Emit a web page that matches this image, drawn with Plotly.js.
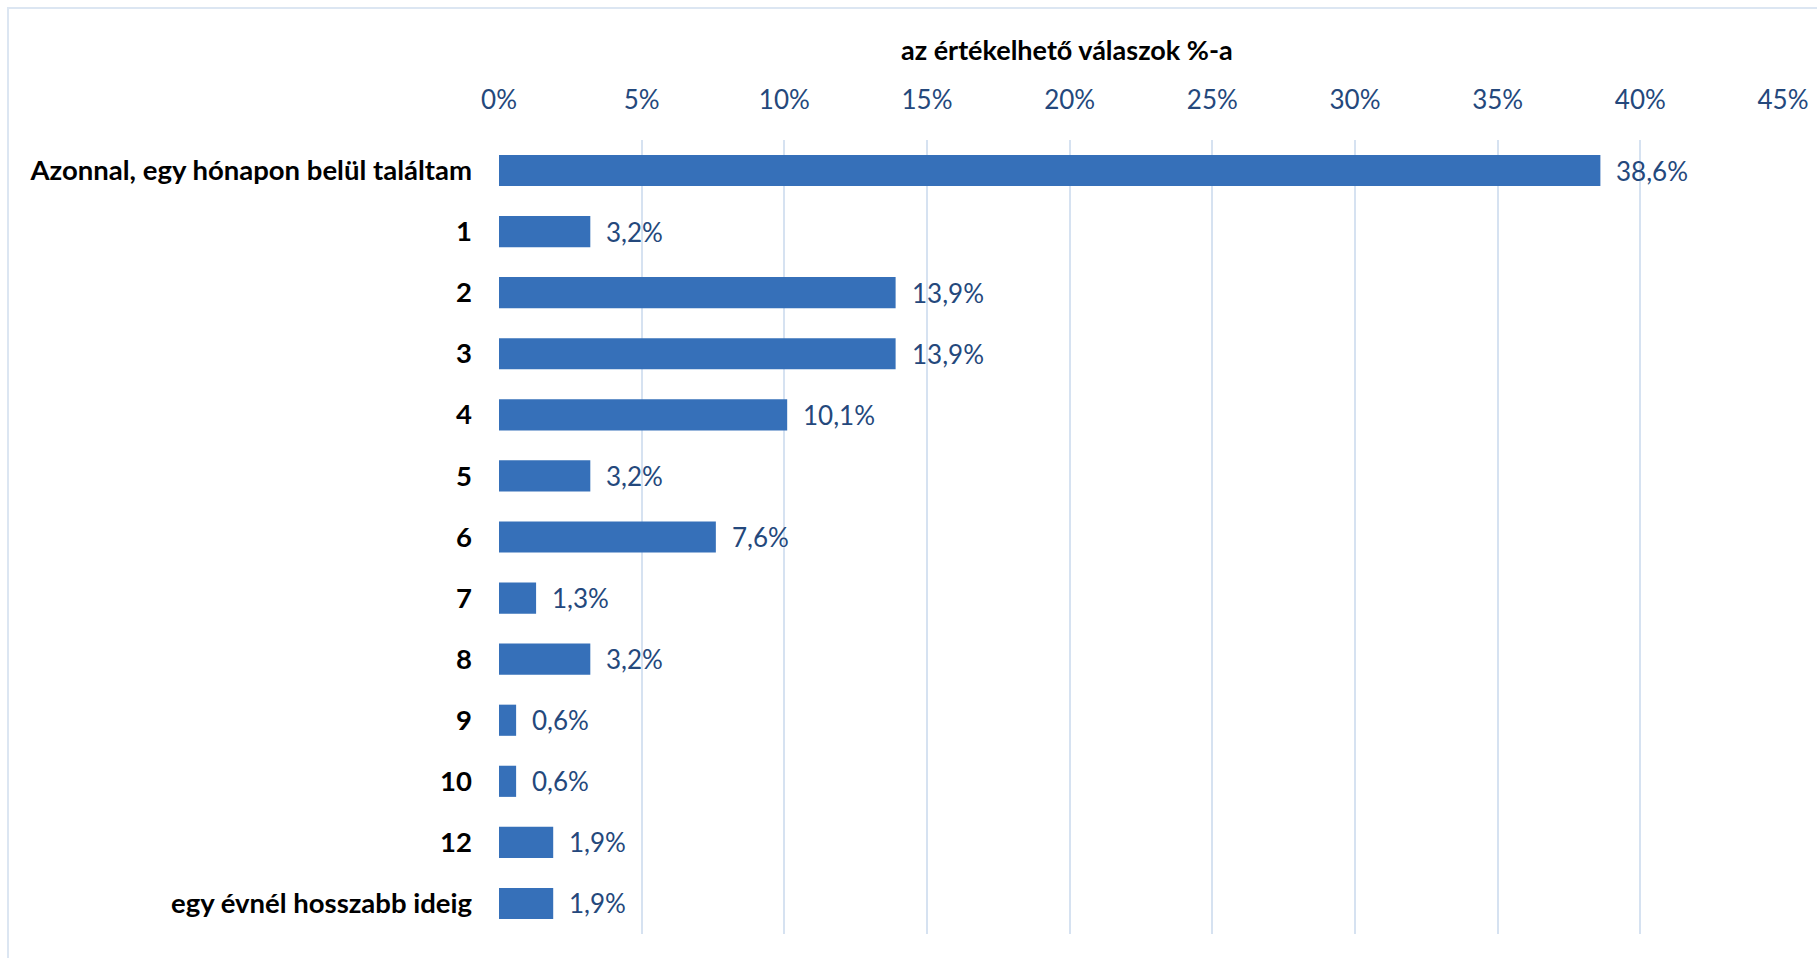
<!DOCTYPE html>
<html>
<head>
<meta charset="utf-8">
<script src="https://cdn.plot.ly/plotly-3.0.1.min.js"></script>
<style>
  html, body { margin: 0; padding: 0; background: #ffffff; }
  #wrap { position: relative; width: 1817px; height: 958px; overflow: hidden; }
  #frame { position: absolute; left: 7px; top: 7px; width: 1820px; height: 960px;
           border: 2px solid #DCE6F2; box-sizing: border-box; pointer-events: none; }
  #chart { position: absolute; left: 0; top: 0; width: 1817px; height: 958px; }
</style>
</head>
<body>
<div id="wrap">
  <div id="chart"></div>
  <div id="frame"></div>
</div>
<script>
const categories = [
  "Azonnal, egy hónapon belül találtam",
  "1", "2", "3", "4", "5", "6", "7", "8", "9", "10", "12",
  "egy évnél hosszabb ideig"
];
const values = [38.6, 3.2, 13.9, 13.9, 10.1, 3.2, 7.6, 1.3, 3.2, 0.6, 0.6, 1.9, 1.9];
const tickValues = [0, 5, 10, 15, 20, 25, 30, 35, 40, 45];
const tickLabels = ["0%", "5%", "10%", "15%", "20%", "25%", "30%", "35%", "40%", "45%"];
const axisTitle = "az értékelhető válaszok %-a";

const FONT = "Lato, 'Open Sans', sans-serif";
const labelColor = "#24487C";

const W = 1817, H = 958, L = 499, R = 34, T = 140, B = 24;
const pw = W - L - R, ph = H - T - B;

const trace = {
  type: "bar",
  orientation: "h",
  x: values,
  y: categories,
  marker: { color: "#3670B9", line: { width: 0 } },
  hoverinfo: "skip"
};

// value labels: y given as category index so that numeric-looking names are not misread
const annotations = values.map((v, i) => ({
  x: v,
  y: i,
  xref: "x",
  yref: "y",
  text: v.toFixed(1).replace(".", ",") + "%",
  showarrow: false,
  xanchor: "left",
  yanchor: "middle",
  xshift: 14,
  font: { family: FONT, size: 26, color: labelColor }
}));

annotations.push({
  x: (1067 - L) / pw,
  y: (H - B - 49) / ph,
  xref: "paper", yref: "paper",
  text: "<b>" + axisTitle + "</b>",
  showarrow: false, xanchor: "center", yanchor: "middle",
  font: { family: FONT, size: 27, color: "#000000" }
});

const layout = {
  width: W,
  height: H,
  margin: { l: L, r: R, t: T, b: B, pad: 0 },
  paper_bgcolor: "rgba(0,0,0,0)",
  plot_bgcolor: "rgba(0,0,0,0)",
  bargap: 0.49,
  showlegend: false,
  separators: ", ",
  xaxis: {
    side: "top",
    range: [0, 45],
    tickvals: tickValues,
    ticktext: tickLabels,
    showgrid: true,
    gridcolor: "#D6E2F1",
    gridwidth: 2,
    zeroline: false,
    showline: false,
    ticks: "",
    ticklabelstandoff: 25,
    tickfont: { family: FONT, size: 26, color: labelColor },
    fixedrange: true
  },
  yaxis: {
    autorange: "reversed",
    type: "category",
    showgrid: false,
    zeroline: false,
    showline: false,
    ticks: "",
    ticklabelstandoff: 26,
    tickfont: { family: FONT, size: 27.5, color: "#000000", weight: "bold" },
    fixedrange: true
  },
  annotations: annotations
};

Plotly.newPlot("chart", [trace], layout, { displayModeBar: false, staticPlot: true });
</script>
</body>
</html>
